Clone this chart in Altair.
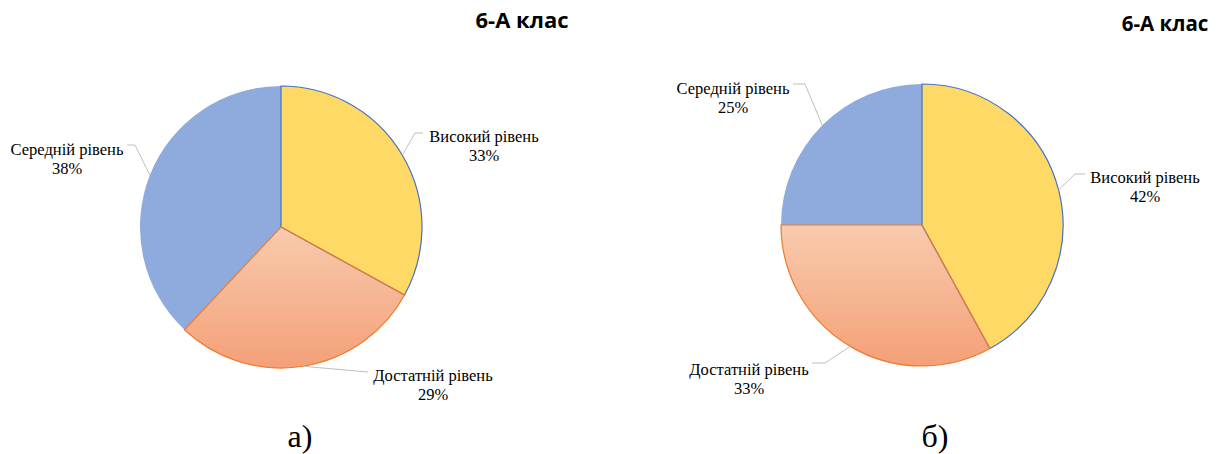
import math
import altair as alt
import pandas as pd

# ---- data ----
categories = ["Високий рівень", "Достатній рівень", "Середній рівень"]
values_a = [33, 29, 38]
values_b = [42, 33, 25]
panel_title = "6-А клас"
captions = ["а)", "б)"]

# ---- styles ----
fill_colors = ["#FFD966", "#F4B183", "#8FAADC"]
stroke_colors = ["#4472C4", "#ED7D31", "#8FAADC"]
grad_stops = ["#F8CBAD", "#F4A078"]
R = 141
SERIF = "Liberation Serif"
SANS = "Open Sans"

# layout (chart pixel coordinates) for each panel
layout = [
    dict(cx=273, cy=219, title=(514, 13, 22), caption=(292, 429),
         labels=[(476, 129), (425, 368), (59, 142)],
         elbows=[(407, 125), (360, 364), (127, 137)],
         ends=[(415, 125), (360, 364), (119, 137)]),
    dict(cx=914, cy=217, title=(1157, 17, 20.5), caption=(927, 429),
         labels=[(1137, 170), (741, 362), (725, 81)],
         elbows=[(1067, 166), (817, 355), (797, 76)],
         ends=[(1077, 166), (804, 355), (785, 76)]),
]


def make_df(values):
    return pd.DataFrame({
        "cat": categories,
        "value": values,
        "idx": list(range(len(categories))),
        "label": [f"{c}\n{v}%" for c, v in zip(categories, values)],
    })


def pie(values, lay):
    df = make_df(values)
    cx, cy = lay["cx"], lay["cy"]
    base = alt.Chart(df).encode(
        theta=alt.Theta("value:Q", stack=True, scale=alt.Scale(domain=[0, 100])),
        order=alt.Order("idx:Q"),
        x=alt.value(cx),
        y=alt.value(cy),
    )
    fill = base.mark_arc(radius=R, strokeWidth=0).encode(
        fill=alt.Fill("cat:N", scale=alt.Scale(domain=categories, range=fill_colors), legend=None)
    )
    grad = base.mark_arc(
        radius=R,
        strokeWidth=0,
        fill=alt.Gradient(
            gradient="linear",
            stops=[alt.GradientStop(color=grad_stops[0], offset=0),
                   alt.GradientStop(color=grad_stops[1], offset=1)],
            x1=0, x2=0, y1=0, y2=1,
        ),
    ).encode(
        fillOpacity=alt.condition(alt.datum.cat == categories[1], alt.value(1), alt.value(0))
    )
    outline = base.mark_arc(radius=R, filled=False, strokeWidth=1.2).encode(
        stroke=alt.Stroke("cat:N", scale=alt.Scale(domain=categories, range=stroke_colors), legend=None),
        strokeOpacity=alt.condition(alt.datum.cat == categories[2], alt.value(0), alt.value(1)),
    )

    # leader lines: from slice mid-angle on the rim to the label
    cum = 0
    segs = []
    total = sum(values)
    for i, v in enumerate(values):
        mid = (cum + v / 2) / total * 2 * math.pi
        cum += v
        sx = cx + R * math.sin(mid)
        sy = cy - R * math.cos(mid)
        ex, ey = lay["elbows"][i]
        fx, fy = lay["ends"][i]
        segs.append(dict(x=sx, y=sy, x2=ex, y2=ey))
        segs.append(dict(x=ex, y=ey, x2=fx, y2=fy))
    seg_df = pd.DataFrame(segs)
    leaders = alt.Chart(seg_df).mark_rule(color="#BFBFBF", strokeWidth=1).encode(
        x=alt.X("x:Q", scale=None), y=alt.Y("y:Q", scale=None),
        x2="x2:Q", y2="y2:Q",
    )

    lab_df = df.copy()
    lab_df["lx"] = [p[0] for p in lay["labels"]]
    lab_df["ly"] = [p[1] for p in lay["labels"]]
    labels = alt.Chart(lab_df).mark_text(
        font=SERIF, fontSize=16.5, color="#000000", lineBreak="\n", lineHeight=19,
        align="center", baseline="middle",
    ).encode(x=alt.X("lx:Q", scale=None), y=alt.Y("ly:Q", scale=None), text="label:N")

    tx, ty, ts = lay["title"]
    title = alt.Chart(pd.DataFrame({"t": [panel_title]})).mark_text(
        font=SANS, fontSize=ts, fontWeight="bold", color="#000000",
        align="center", baseline="middle",
    ).encode(x=alt.value(tx), y=alt.value(ty), text="t:N")
    return [fill, grad, outline, leaders, labels, title]


layers = []
for vals, lay, cap in zip([values_a, values_b], layout, captions):
    layers += pie(vals, lay)
    cx_, cy_ = lay["caption"]
    layers.append(
        alt.Chart(pd.DataFrame({"t": [cap]})).mark_text(
            font=SERIF, fontSize=32, color="#000000", align="center", baseline="middle",
        ).encode(x=alt.value(cx_), y=alt.value(cy_), text="t:N")
    )

chart = alt.layer(*layers).properties(
    width=1213, height=446, autosize="none", padding=0
).configure_view(strokeWidth=0)

chart.save("out.html", embed_options={"renderer": "svg", "actions": False})
